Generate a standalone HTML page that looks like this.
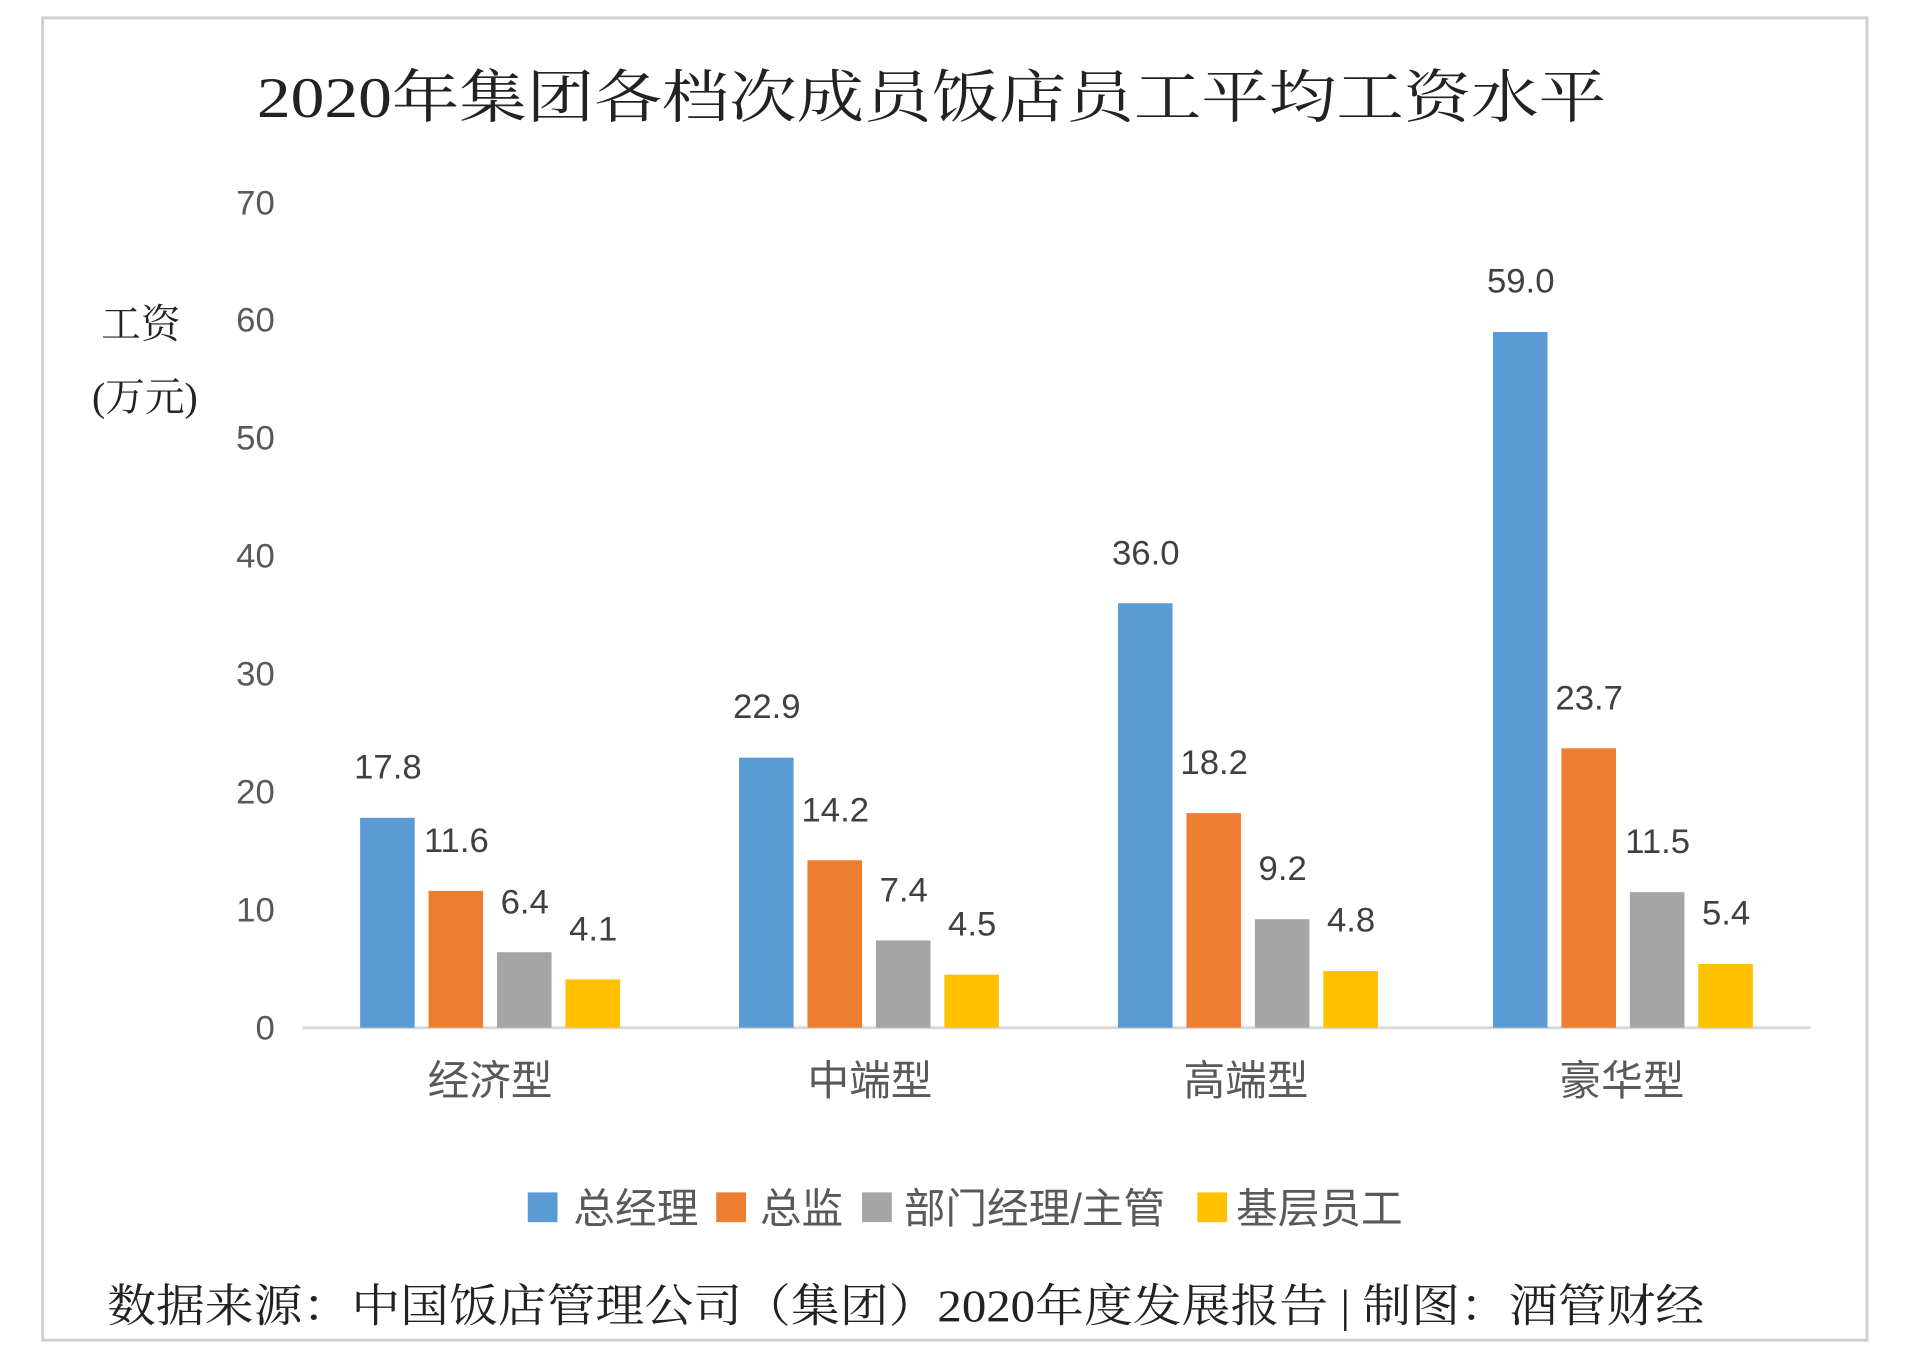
<!DOCTYPE html>
<html><head><meta charset="utf-8"><style>body{margin:0;background:#fff}svg{display:block}</style></head>
<body>
<svg width="1916" height="1362" xmlns="http://www.w3.org/2000/svg">
<rect x="0" y="0" width="1916" height="1362" fill="#fff"/>
<g transform="scale(0.992)">
<rect x="43" y="18" width="1839" height="1333" fill="#fff" stroke="#d0d0d0" stroke-width="3"/>
<text x="939" y="118" text-anchor="middle" font-family="'Liberation Serif','Noto Serif CJK SC',serif" font-size="58" fill="#222" textLength="1360" lengthAdjust="spacingAndGlyphs">2020年集团各档次成员饭店员工平均工资水平</text>
<g font-family="'Liberation Sans','Noto Sans CJK SC',sans-serif" font-size="35" fill="#595959" text-anchor="end">
<text x="277" y="1048">0</text><text x="277" y="929">10</text><text x="277" y="810">20</text><text x="277" y="691">30</text><text x="277" y="572">40</text><text x="277" y="453">50</text><text x="277" y="334">60</text><text x="277" y="216">70</text>
</g>
<g font-family="'Liberation Serif','Noto Serif CJK SC',serif" font-size="40" fill="#222" text-anchor="middle">
<text x="142" y="340">工资</text><text x="146" y="414">(万元)</text>
</g>
<line x1="305" y1="1036" x2="1825" y2="1036" stroke="#d9d9d9" stroke-width="3"/>
<g>
<rect x="363" y="824.4" width="55" height="211.6" fill="#5B9BD5"/>
<rect x="432" y="898.1" width="55" height="137.9" fill="#ED7D31"/>
<rect x="501" y="959.9" width="55" height="76.1" fill="#A5A5A5"/>
<rect x="570" y="987.3" width="55" height="48.7" fill="#FFC000"/>
<rect x="745" y="763.8" width="55" height="272.2" fill="#5B9BD5"/>
<rect x="814" y="867.2" width="55" height="168.8" fill="#ED7D31"/>
<rect x="883" y="948.0" width="55" height="88.0" fill="#A5A5A5"/>
<rect x="952" y="982.5" width="55" height="53.5" fill="#FFC000"/>
<rect x="1127" y="608.1" width="55" height="427.9" fill="#5B9BD5"/>
<rect x="1196" y="819.7" width="55" height="216.3" fill="#ED7D31"/>
<rect x="1265" y="926.6" width="55" height="109.4" fill="#A5A5A5"/>
<rect x="1334" y="978.9" width="55" height="57.1" fill="#FFC000"/>
<rect x="1505" y="334.7" width="55" height="701.3" fill="#5B9BD5"/>
<rect x="1574" y="754.3" width="55" height="281.7" fill="#ED7D31"/>
<rect x="1643" y="899.3" width="55" height="136.7" fill="#A5A5A5"/>
<rect x="1712" y="971.8" width="55" height="64.2" fill="#FFC000"/>
</g>
<g font-family="'Liberation Sans',sans-serif" font-size="35" fill="#404040" text-anchor="middle">
<text x="391" y="785">17.8</text>
<text x="460" y="859">11.6</text>
<text x="529" y="921">6.4</text>
<text x="598" y="948">4.1</text>
<text x="773" y="724">22.9</text>
<text x="842" y="828">14.2</text>
<text x="911" y="909">7.4</text>
<text x="980" y="943">4.5</text>
<text x="1155" y="569">36.0</text>
<text x="1224" y="780">18.2</text>
<text x="1293" y="887">9.2</text>
<text x="1362" y="939">4.8</text>
<text x="1533" y="295">59.0</text>
<text x="1602" y="715">23.7</text>
<text x="1671" y="860">11.5</text>
<text x="1740" y="932">5.4</text>
</g>
<g font-family="'Liberation Sans','Noto Sans CJK SC',sans-serif" font-size="42" fill="#595959" text-anchor="middle">
<text x="494" y="1104">经济型</text><text x="877" y="1104">中端型</text><text x="1256" y="1104">高端型</text><text x="1635" y="1104">豪华型</text>
</g>
<g font-family="'Liberation Sans','Noto Sans CJK SC',sans-serif" font-size="42" fill="#595959">
<rect x="532" y="1202" width="30" height="30" fill="#5B9BD5"/><text x="578" y="1233">总经理</text>
<rect x="722" y="1202" width="30" height="30" fill="#ED7D31"/><text x="766" y="1233">总监</text>
<rect x="869" y="1202" width="30" height="30" fill="#A5A5A5"/><text x="911" y="1233">部门经理/主管</text>
<rect x="1207" y="1202" width="30" height="30" fill="#FFC000"/><text x="1246" y="1233">基层员工</text>
</g>
<text x="108" y="1332" font-family="'Liberation Serif','Noto Serif CJK SC',serif" font-size="46" fill="#222" textLength="1610" lengthAdjust="spacingAndGlyphs">数据来源：中国饭店管理公司（集团）2020年度发展报告 | 制图：酒管财经</text>
</g>
</svg>
</body></html>
